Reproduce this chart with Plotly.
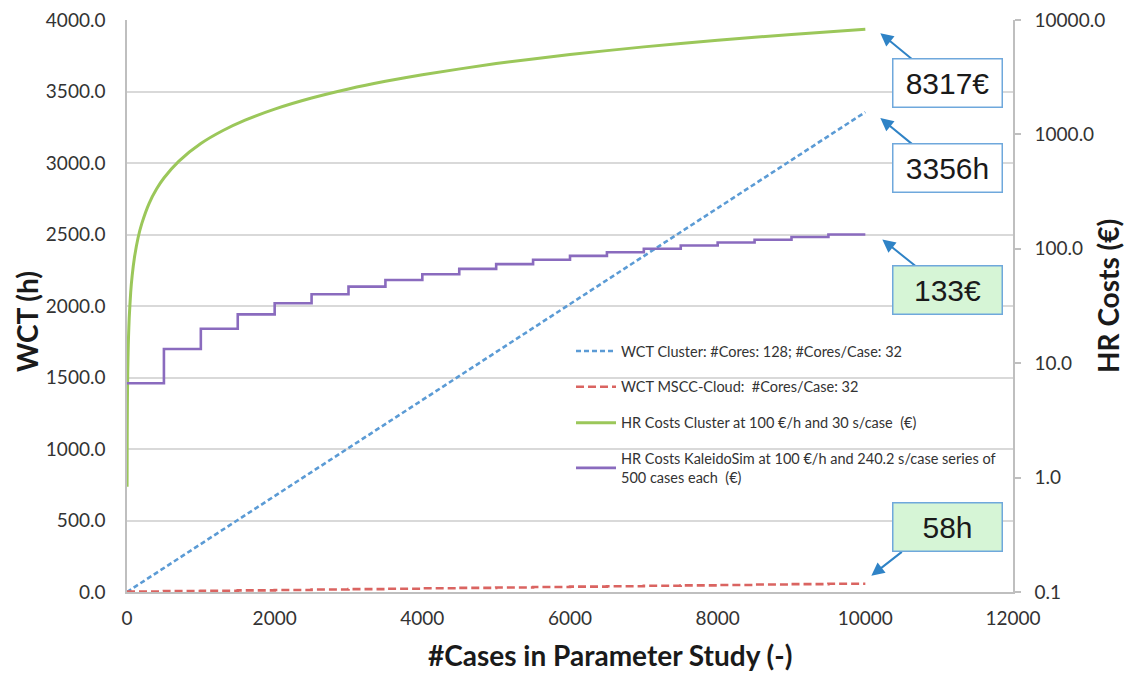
import math
import plotly.graph_objects as go

# ---------------- data ----------------
blue_x = [0, 10000]
blue_y = [0.0, 3356.0]  # WCT Cluster (h)

step_x = [0, 500, 1000, 1500, 2000, 2500, 3000, 3500, 4000, 4500, 5000,
          5500, 6000, 6500, 7000, 7500, 8000, 8500, 9000, 9500, 10000]
red_y = [2.9, 5.8, 8.7, 11.6, 14.5, 17.4, 20.3, 23.2, 26.1, 29.0, 31.9,
         34.8, 37.7, 40.6, 43.5, 46.4, 49.3, 52.2, 55.1, 58.0, 58.0]  # WCT MSCC-Cloud (h)
purple_y = [6.67, 13.3, 20.0, 26.7, 33.4, 40.0, 46.7, 53.4, 60.0, 66.7, 73.4,
            80.1, 86.7, 93.4, 100.1, 106.8, 113.4, 120.1, 126.8, 133.4, 133.4]  # HR Costs KaleidoSim (€)

green_x = [1, 2, 3, 5, 7, 10, 15, 20, 30, 50, 70, 100, 150, 200, 300, 400, 500,
           700, 1000, 1300, 1600, 2000, 2500, 3000, 3500, 4000, 5000, 6000,
           7000, 8000, 9000, 10000]
green_y = [0.83, 1.66, 2.5, 4.16, 5.82, 8.32, 12.5, 16.6, 25.0, 41.6, 58.2, 83.2,
           125, 166, 250, 333, 416, 582, 832, 1081, 1331, 1663, 2079, 2495,
           2911, 3327, 4158, 4990, 5822, 6654, 7485, 8317]  # HR Costs Cluster (€)

names = ["WCT Cluster: #Cores: 128; #Cores/Case: 32",
         "WCT MSCC-Cloud:  #Cores/Case: 32",
         "HR Costs Cluster at 100 €/h and 30 s/case  (€)",
         "HR Costs KaleidoSim at 100 €/h and 240.2 s/case series of<br>500 cases each  (€)"]

labels = ["8317€", "3356h", "133€", "58h"]
x_ticks = [0, 2000, 4000, 6000, 8000, 10000, 12000]
x_ticktext = ["0", "2000", "4000", "6000", "8000", "10000", "12000"]
right_tickvals = [0.1, 1, 10, 100, 1000, 10000]
right_ticktext = ["0.1", "1.0", "10.0", "100.0", "1000.0", "10000.0"]

# ---------------- colours / styles ----------------
BLUE = "#5B9BD5"
RED = "#DA6461"
GREEN = "#9BC75A"
PURPLE = "#8A6BBE"
ARROW = "#2F83C6"
FONT = "Lato"
TITLE_SIZE = 28

fig = go.Figure()
fig.add_trace(go.Scatter(x=blue_x, y=blue_y, mode="lines", name=names[0],
                         line=dict(color=BLUE, width=2.6, dash="5px,3px"),
                         legendgroup="a", yaxis="y"))
fig.add_trace(go.Scatter(x=step_x, y=red_y, mode="lines", name=names[1],
                         line=dict(color=RED, width=2.6, dash="8px,4px", shape="hv"),
                         legendgroup="b", yaxis="y"))
fig.add_trace(go.Scatter(x=green_x, y=green_y, mode="lines", name=names[2],
                         line=dict(color=GREEN, width=3, shape="spline", smoothing=0.6),
                         legendgroup="c", yaxis="y2"))
fig.add_trace(go.Scatter(x=step_x, y=purple_y, mode="lines", name=names[3],
                         line=dict(color=PURPLE, width=2.6, shape="hv"),
                         legendgroup="d", yaxis="y2"))

# arrows: tip near the end of each series, tail toward label box
ends = [(10000, math.log10(green_y[-1]), "y2", 15, -4, 33, 27),
        (10000, blue_y[-1], "y", 15, -6, 33, 27),
        (10000, math.log10(purple_y[-1]), "y2", 17, -5, 35, 28),
        (10000, red_y[-1], "y", 6, 8, 32, -25)]
annotations = []
for (x, y, yref, xs, ys, ax, ay) in ends:
    annotations.append(dict(x=x, y=y, xref="x", yref=yref, xshift=xs, yshift=ys,
                            text="", showarrow=True, ax=ax, ay=ay,
                            arrowcolor=ARROW, arrowwidth=2, arrowhead=2,
                            arrowsize=1.3, standoff=0, startstandoff=0))

# page body has an 8px margin: figure is drawn 8px right/down of the window corner
OFF = 8
W, H = 1133 - 2 * OFF, 680 - 2 * OFF
L = 127 - OFF
T = 20 - OFF
R = W - (1013 - OFF)
B = H - (592 - OFF)
pw, ph = W - L - R, H - T - B


def px(x_ref):
    return (x_ref - OFF - L) / pw


def py(y_ref):
    return (H - B - (y_ref - OFF)) / ph


box_centres = [(947, 83), (947, 168), (947, 290), (947, 527)]
box_bg = ["white", "white", "#D6F5D6", "#D6F5D6"]
for (cx, cy), txt, bg in zip(box_centres, labels, box_bg):
    annotations.append(dict(x=px(cx), y=py(cy), xref="paper", yref="paper",
                            text=txt, showarrow=False, width=104, height=43,
                            bgcolor=bg, bordercolor="#6FA8DC", borderwidth=1.5, borderpad=2,
                            font=dict(family="Liberation Sans", size=30, color="#1a1a1a"),
                            xanchor="center", yanchor="middle"))

# axis titles
title_font = dict(family=FONT, size=TITLE_SIZE, color="#1a1a1a")
annotations.append(dict(x=px(610), y=py(655), xref="paper", yref="paper",
                        text="<b>#Cases in Parameter Study (-)</b>", showarrow=False,
                        font=title_font, xanchor="center", yanchor="middle"))
annotations.append(dict(x=px(27), y=py(322), xref="paper", yref="paper",
                        text="<b>WCT (h)</b>", showarrow=False, textangle=-90,
                        font=title_font, xanchor="center", yanchor="middle"))
annotations.append(dict(x=px(1108), y=py(296), xref="paper", yref="paper",
                        text="<b>HR Costs (€)</b>", showarrow=False, textangle=-90,
                        font=title_font, xanchor="center", yanchor="middle"))

tick_font = dict(family=FONT, size=19, color="#333333")

fig.update_layout(
    width=W, height=H,
    margin=dict(l=L, r=R, t=T, b=B, autoexpand=False),
    paper_bgcolor="white", plot_bgcolor="white",
    font=dict(family=FONT, color="#333333"),
    xaxis=dict(range=[0, 12000], tickvals=x_ticks, ticktext=x_ticktext,
               showgrid=False, zeroline=False, automargin=False,
               showline=True, linecolor="#BFBFBF", linewidth=1.5,
               ticks="", ticklabelstandoff=8, tickfont=tick_font,
               ticklabeloverflow="allow"),
    yaxis=dict(range=[0, 4000], dtick=500, tickformat=".1f", showgrid=True,
               gridcolor="#D9D9D9", gridwidth=1.5, zeroline=False, automargin=False,
               showline=True, linecolor="#BFBFBF", linewidth=1.5,
               ticks="", ticklabelstandoff=16, tickfont=tick_font,
               ticklabeloverflow="allow"),
    yaxis2=dict(type="log", range=[-1, 4], overlaying="y", side="right",
                tickvals=right_tickvals, ticktext=right_ticktext, showgrid=False,
                zeroline=False, automargin=False,
                showline=True, linecolor="#BFBFBF", linewidth=1.5,
                ticks="outside", ticklen=6, tickcolor="#BFBFBF", tickwidth=1.5,
                ticklabelstandoff=10, tickfont=tick_font,
                ticklabeloverflow="allow"),
    legend=dict(x=px(571), y=py(335), xanchor="left", yanchor="top",
                bgcolor="rgba(0,0,0,0)", font=dict(family=FONT, size=14.5, color="#333333"),
                tracegroupgap=14, itemwidth=40, traceorder="grouped"),
    annotations=annotations,
    showlegend=True,
)

fig.write_html("out.html")
